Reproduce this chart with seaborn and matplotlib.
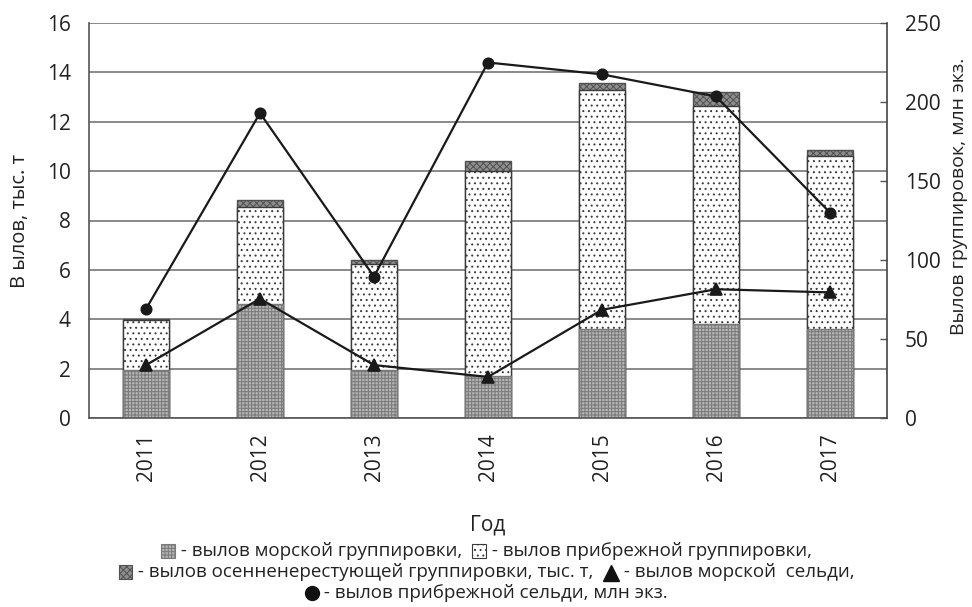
import seaborn as sns
import matplotlib.pyplot as plt
import numpy as np
from matplotlib.patches import Rectangle
from matplotlib.lines import Line2D
from matplotlib.offsetbox import (AnchoredOffsetbox, DrawingArea, HPacker,
                                  VPacker, TextArea)

# Data
years = ["2011", "2012", "2013", "2014", "2015", "2016", "2017"]
sea_group = [1.95, 4.6, 1.95, 1.7, 3.6, 3.8, 3.6]          # тыс. т
coastal_group = [2.0, 3.95, 4.3, 8.3, 9.7, 8.85, 7.0]       # тыс. т
autumn_group = [0.08, 0.3, 0.15, 0.4, 0.25, 0.55, 0.27]     # тыс. т
sea_herring = [33.5, 75.5, 33.5, 26, 68.5, 81.5, 79.5]      # млн экз.
coastal_herring = [69, 193, 89.5, 225, 217.5, 203.5, 130]   # млн экз.

legend_rows = [
    [("sea", " - вылов морской группировки,  "),
     ("coastal", " - вылов прибрежной группировки,")],
    [("autumn", " - вылов осенненерестующей группировки, тыс. т,  "),
     ("tri", " - вылов морской  сельди,")],
    [("dot", " - вылов прибрежной сельди, млн экз.")],
]

sns.set_style("white")
plt.rcParams["font.family"] = ["Open Sans", "DejaVu Sans"]
plt.rcParams["hatch.linewidth"] = 0.7

# bar styles
styles = {
    "sea": dict(color="#b4b4b4", hatch="+++++", edgecolor="#7a7a7a"),
    "coastal": dict(color="#ffffff", hatch="...", edgecolor="#3a3a3a"),
    "autumn": dict(color="#8e8e8e", hatch="xxxxx", edgecolor="#505050"),
}
text_color = "#222222"

fig = plt.figure(figsize=(9.72, 6.07), dpi=100)
ax = fig.add_axes([89 / 972, 1 - 418 / 607, (887 - 89) / 972, (418 - 23) / 607])

sea = np.array(sea_group)
mid = sea + np.array(coastal_group)
total = mid + np.array(autumn_group)

# stacked bars drawn from the top layer down
for vals, key in [(total, "autumn"), (mid, "coastal"), (sea, "sea")]:
    st = styles[key]
    sns.barplot(x=years, y=vals, ax=ax, width=0.4, saturation=1,
                color=st["color"], hatch=st["hatch"],
                edgecolor=st["edgecolor"], linewidth=1.0, zorder=2)

ax.set_ylim(0, 16)
ax.set_yticks(np.arange(0, 17, 2))
ax.set_xlim(-0.5, 6.5)
ax.yaxis.grid(True, color="#808080", linewidth=1.3, zorder=0)
ax.set_axisbelow(True)
ax.tick_params(axis="y", length=0, pad=13, labelsize=15, labelcolor=text_color)
ax.tick_params(axis="x", which="major", length=0, pad=11, labelsize=15,
               labelrotation=90, labelcolor=text_color)
ax.set_xticks(np.arange(0.5, 6.5, 1), minor=True)
ax.tick_params(axis="x", which="minor", direction="in", length=4.5,
               width=1, color="#555555")
for side in ["left", "bottom"]:
    ax.spines[side].set_color("#555555")
    ax.spines[side].set_linewidth(1.2)
ax.spines["top"].set_visible(False)
ax.spines["right"].set_visible(False)

ax.set_xlabel("Год", fontsize=15, color=text_color, labelpad=24)
ax.set_ylabel("В ылов, тыс. т", fontsize=14.5, color=text_color)
ax.yaxis.set_label_coords(-0.074, 0.5)

# lines on the right axis
ax2 = ax.twinx()
sns.pointplot(x=years, y=coastal_herring, ax=ax2, color="#1a1a1a",
              marker="o", markersize=7.5, linewidth=1.6, zorder=5)
sns.pointplot(x=years, y=sea_herring, ax=ax2, color="#1a1a1a",
              marker="^", markersize=8, linewidth=1.6, zorder=5)
ax2.set_ylim(0, 250)
ax2.set_yticks([0, 50, 100, 150, 200, 250])
ax2.set_xlim(-0.5, 6.5)
ax2.tick_params(axis="y", direction="in", length=5, width=1, color="#555555",
                pad=13, labelsize=15, labelcolor=text_color)
for side in ["left", "top", "bottom"]:
    ax2.spines[side].set_visible(False)
ax2.spines["right"].set_color("#444444")
ax2.spines["right"].set_linewidth(1.2)
ax2.set_ylabel("Вылов группировок, млн экз.", fontsize=14, color=text_color)
ax2.yaxis.set_label_coords(1.079, 0.56)


# legend drawn as centred text lines with symbols
def symbol_box(key):
    da = DrawingArea(11, 11, 0, 0)
    if key in styles:
        st = styles[key]
        da.add_artist(Rectangle((0.5, 0.5), 10, 10, facecolor=st["color"],
                                hatch=st["hatch"], edgecolor=st["edgecolor"],
                                linewidth=0.8))
    else:
        m = "^" if key == "tri" else "o"
        da.add_artist(Line2D([5.5], [4.5 if m == "^" else 5.5], marker=m,
                             markersize=12 if m == "^" else 10,
                             color="#111111", linestyle="none"))
    return da


rows = []
for row in legend_rows:
    items = []
    for key, text in row:
        items.append(symbol_box(key))
        items.append(TextArea(text, textprops=dict(fontsize=13.5,
                                                   color=text_color)))
    rows.append(HPacker(children=items, align="center", pad=0, sep=0))
legend_box = VPacker(children=rows, align="center", pad=0, sep=2)
anchored = AnchoredOffsetbox(loc="upper center", child=legend_box, pad=0,
                             borderpad=0, frameon=False,
                             bbox_to_anchor=(0.5, 1 - 542 / 607),
                             bbox_transform=fig.transFigure)
fig.add_artist(anchored)

fig.savefig("out.png", dpi=100)
